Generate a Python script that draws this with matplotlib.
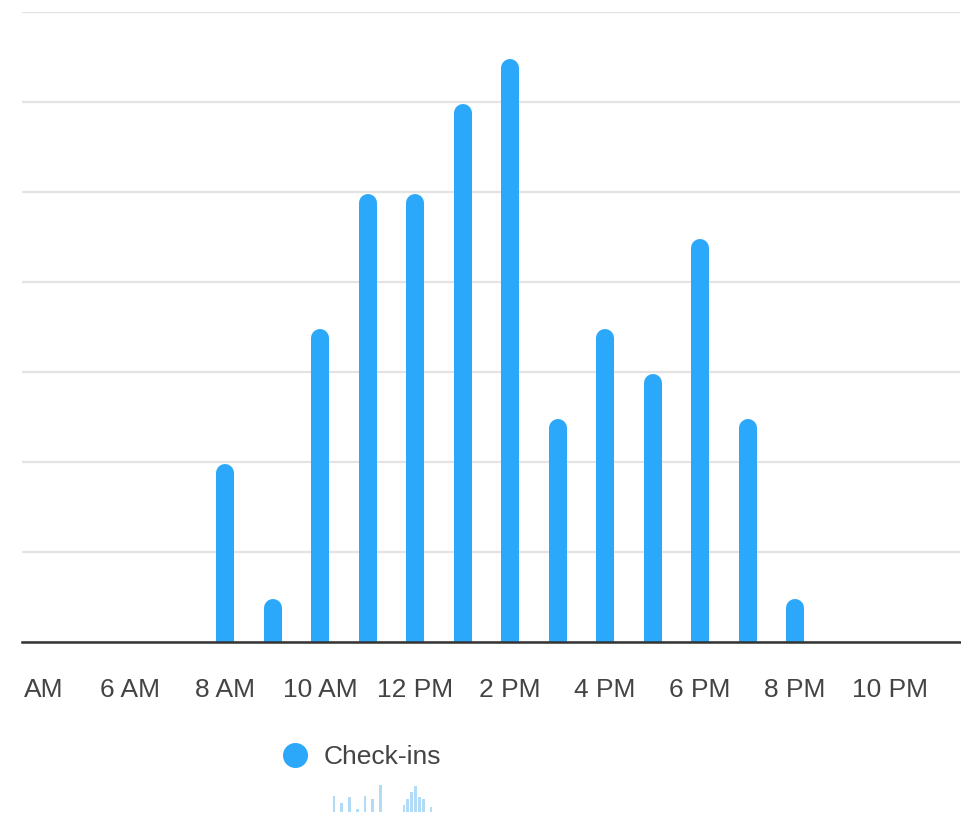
import matplotlib
matplotlib.use("Agg")
import matplotlib.pyplot as plt
from matplotlib.lines import Line2D
from matplotlib.transforms import ScaledTranslation

plt.rcParams['font.family'] = ['Liberation Sans', 'DejaVu Sans']

# check-ins per hour of day
hours = [8, 9, 10, 11, 12, 13, 14, 15, 16, 17, 18, 19, 20]
checkins = [4, 1, 7, 10, 10, 12, 13, 5, 7, 6, 9, 5, 1]

tick_hours = [4, 6, 8, 10, 12, 14, 16, 18, 20, 22]
tick_labels = ['AM', '6 AM', '8 AM', '10 AM', '12 PM', '2 PM', '4 PM', '6 PM', '8 PM', '10 PM']

# faint navigator thumbnail under the legend
thumb_x = [1, 2, 3, 4, 5, 6, 7, 10, 10.5, 11, 11.5, 12, 12.5, 13.5]
thumb_v = [0.6, 0.35, 0.55, 0.1, 0.6, 0.5, 1.0, 0.25, 0.5, 0.75, 0.95, 0.55, 0.5, 0.2]

blue = '#2BA8F9'
W, H = 961, 835

fig = plt.figure(figsize=(W / 100, H / 100), dpi=100)
ax = fig.add_axes([22 / W, 1 - 642 / H, (960 - 22) / W, (642 - 12) / H])

x0 = 8 + (22 - 225) / 47.5
x1 = 8 + (960 - 225) / 47.5
ax.set_xlim(x0, x1)
ax.set_ylim(0, 14)

# rounded bar tops: thick vertical lines with round caps
px_per_unit = (642 - 12) / 14.0
bar_px = 18
r = (bar_px / 2) / px_per_unit
lw = bar_px * 72 / 100
lines = ax.vlines(hours, -1, [v - r - 0.04 for v in checkins], colors=blue,
                  linewidth=lw, zorder=3)
lines.set_capstyle('round')

ax.set_yticks([0, 2, 4, 6, 8, 10, 12, 14])
ax.yaxis.grid(True, color='#e3e3e3', linewidth=1.6, zorder=0)
ax.set_axisbelow(True)
ax.tick_params(axis='y', left=False, labelleft=False)
for s in ['top', 'right', 'left']:
    ax.spines[s].set_visible(False)
ax.spines['bottom'].set_color('#333333')
ax.spines['bottom'].set_linewidth(1.8)
ax.spines['bottom'].set_zorder(5)

ax.set_xticks(tick_hours)
ax.set_xticklabels(tick_labels, fontsize=19, color='#444444')
ax.tick_params(axis='x', length=0, pad=26)
# the first label is cut at the left edge; only "AM" shows
first = ax.get_xticklabels()[0]
first.set_transform(first.get_transform() + ScaledTranslation(6 / 72, 0, fig.dpi_scale_trans))

handle = Line2D([], [], marker='o', linestyle='', color=blue, markersize=17)
fig.legend(handles=[handle], labels=['Check-ins'], loc='center',
           bbox_to_anchor=(360 / W, 1 - 757 / H), frameon=False, fontsize=19,
           labelcolor='#444444', handlelength=1.2, handletextpad=0.5, borderpad=0)

tax = fig.add_axes([330 / W, 1 - 812 / H, (435 - 330) / W, (812 - 785) / H])
tax.bar(thumb_x, thumb_v, width=0.35, color='#9fd3f7', alpha=0.8)
tax.set_xlim(0.5, 14)
tax.set_ylim(0, 1)
tax.axis('off')

fig.savefig('out.png', dpi=100, facecolor='white')
